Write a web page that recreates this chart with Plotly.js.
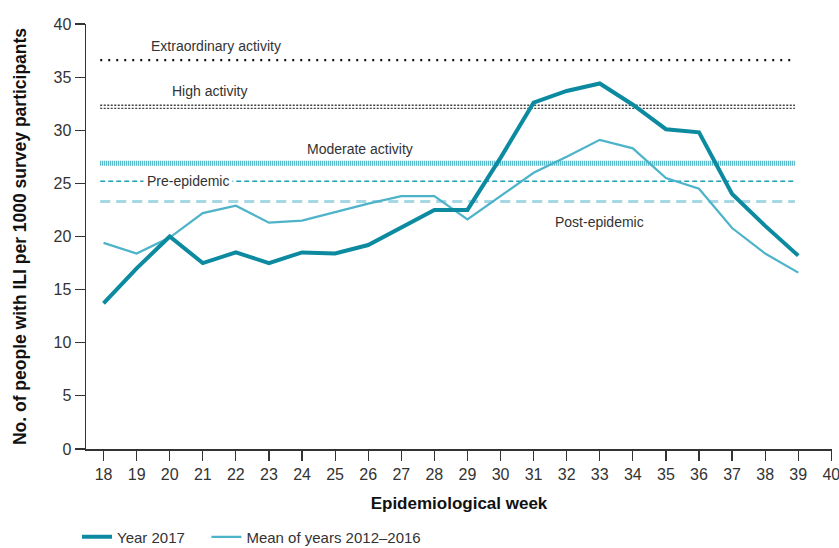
<!DOCTYPE html>
<html>
<head>
<meta charset="utf-8">
<script src="https://cdn.plot.ly/plotly-3.0.1.min.js"></script>
<style>
html,body{margin:0;padding:0;background:#fff;}
#chart{width:839px;height:548px;}
</style>
</head>
<body>
<div id="chart"></div>
<script>
const weeks = [18,19,20,21,22,23,24,25,26,27,28,29,30,31,32,33,34,35,36,37,38,39];
const year2017 = [13.7,17.0,20.0,17.5,18.5,17.5,18.5,18.4,19.2,20.9,22.5,22.5,27.4,32.6,33.7,34.4,32.4,30.1,29.8,24.0,21.0,18.2];
const mean2012_2016 = [19.4,18.4,19.9,22.2,22.9,21.3,21.5,22.3,23.1,23.8,23.8,21.6,23.8,26.0,27.5,29.1,28.3,25.5,24.5,20.8,18.4,16.6];
const seriesNames = ["Year 2017", "Mean of years 2012\u20132016"];
const thresholdNames = ["Extraordinary activity","High activity","Moderate activity","Pre-epidemic","Post-epidemic"];
const thresholdValues = [36.6, 32.2, 26.9, 25.2, 23.3];

const FONT = "'Liberation Sans Narrow', 'Liberation Sans', Arial, sans-serif";
const TXT = "#333333";
const spanStart = 17.9, spanEnd = 38.9;

function hline(i, line) {
  return {x:[spanStart, spanEnd], y:[thresholdValues[i], thresholdValues[i]], mode:'lines',
          line: line, showlegend:false, hoverinfo:'skip'};
}

const traces = [
  hline(4, {color:'#a6d7e4', width:3, dash:'10px,6px'}),
  hline(3, {color:'#1d9fb7', width:1.5, dash:'5px,3px'}),
  hline(2, {color:'#2aa3ba', width:5, dash:'1px,1px'}),
  hline(1, {color:'#444444', width:4.5, dash:'2px,1.5px'}),
  hline(1, {color:'#ffffff', width:1.6}),
  hline(0, {color:'#111111', width:2.4, dash:'2px,6px'}),
  {x:weeks, y:mean2012_2016, mode:'lines', name:seriesNames[1], legend:'legend2',
   line:{color:'#4cb3c9', width:2.2}},
  {x:weeks, y:year2017, mode:'lines', name:seriesNames[0], legend:'legend',
   line:{color:'#0b8aa0', width:4}}
];

const annFont = {family:FONT, size:14, color:TXT};
const annX = [21.4, 21.2, 25.75, 20.55, 33.0];
const annY = [thresholdValues[0]+1.35, thresholdValues[1]+1.45, thresholdValues[2]+1.3, thresholdValues[3], thresholdValues[4]-1.9];
const annotations = thresholdNames.map((t,i)=>({
  x: annX[i], y: annY[i], xref:'x', yref:'y', text:t, showarrow:false,
  font: annFont, bgcolor: i===3 ? '#ffffff' : 'rgba(0,0,0,0)', borderpad: i===3 ? 3 : 0
}));

const legFont = {family:FONT, size:15, color:TXT};
const layout = {
  width:839, height:548,
  margin:{l:86, r:7, t:24, b:99},
  paper_bgcolor:'#ffffff', plot_bgcolor:'#ffffff',
  font:{family:FONT, color:TXT, size:15},
  showlegend:true,
  legend:{orientation:'h', xref:'container', yref:'container', x:0.0918, xanchor:'left',
          y:0.02, yanchor:'middle', font:legFont, bgcolor:'rgba(0,0,0,0)'},
  legend2:{orientation:'h', xref:'container', yref:'container', x:0.246, xanchor:'left',
          y:0.02, yanchor:'middle', font:legFont, bgcolor:'rgba(0,0,0,0)'},
  xaxis:{range:[17.47, 40.02], tick0:18, dtick:1, showgrid:false, zeroline:false,
         showline:true, linecolor:'#333', linewidth:1.5, ticks:'outside', ticklen:10,
         tickcolor:'#333', tickwidth:1.2, tickfont:{family:FONT, size:16, color:TXT},
         ticklabeloverflow:'allow',
         title:{text:'<b>Epidemiological week</b>', font:{family:FONT, size:17, color:'#111'}, standoff:15}},
  yaxis:{range:[0,40], tick0:0, dtick:5, showgrid:false, zeroline:false,
         showline:true, linecolor:'#333', linewidth:1.5, ticks:'outside', ticklen:10,
         tickcolor:'#333', tickwidth:1.2, tickfont:{family:FONT, size:16, color:TXT},
         title:{text:'<b>No. of people with ILI per 1000 survey participants</b>', font:{family:FONT, size:17.5, color:'#111'}, standoff:22}},
  annotations: annotations
};

Plotly.newPlot('chart', traces, layout, {displayModeBar:false, staticPlot:true});
</script>
</body>
</html>
